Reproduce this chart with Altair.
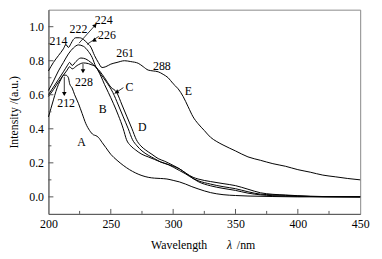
import altair as alt
import pandas as pd

# ---------------- data ----------------
E_wl = [200, 204, 208, 212, 214, 216, 218, 220, 222, 225, 228, 231, 234, 237, 240, 243, 246, 250, 255, 261,
        266, 272, 276, 280, 284, 288, 292, 296, 300, 304, 308, 312, 316, 320, 325, 330, 335, 340, 350, 360,
        370, 380, 390, 400, 410, 420, 430, 440, 450]
E_int = [0.74, 0.79, 0.83, 0.87, 0.895, 0.878, 0.90, 0.925, 0.935, 0.935, 0.925, 0.905, 0.88, 0.83, 0.79,
         0.76, 0.765, 0.78, 0.79, 0.80, 0.795, 0.785, 0.765, 0.745, 0.74, 0.735, 0.72, 0.70, 0.665, 0.635,
         0.59, 0.53, 0.47, 0.43, 0.39, 0.35, 0.325, 0.305, 0.27, 0.235, 0.215, 0.195, 0.18, 0.16, 0.145,
         0.128, 0.118, 0.108, 0.10]

A_wl = [200, 202, 204, 206, 208, 210, 212, 214, 216, 217, 219, 221, 224, 227, 230, 233, 236, 238, 240, 243,
        246, 250, 255, 260, 265, 270, 275, 280, 285, 290, 295, 300, 305, 310, 315, 320, 325, 330, 340, 350,
        360, 380, 400, 450]
A_int = [0.47, 0.52, 0.57, 0.62, 0.66, 0.69, 0.715, 0.715, 0.70, 0.665, 0.64, 0.60, 0.55, 0.49, 0.43, 0.39,
         0.365, 0.36, 0.35, 0.32, 0.29, 0.25, 0.215, 0.185, 0.16, 0.14, 0.125, 0.115, 0.11, 0.108, 0.105,
         0.097, 0.088, 0.075, 0.06, 0.047, 0.035, 0.025, 0.013, 0.008, 0.005, 0.002, 0.0, 0.0]

C_wl = [200, 204, 208, 212, 216, 220, 224, 228, 232, 235, 238, 241, 245, 250, 254.7, 259, 263, 267, 270.5,
        274, 278, 283, 288, 293, 300, 305, 310, 316, 320, 330, 340, 350, 360, 370, 380, 390, 400, 420, 450]
C_int = [0.625, 0.68, 0.74, 0.79, 0.84, 0.875, 0.893, 0.885, 0.855, 0.82, 0.765, 0.74, 0.70, 0.645, 0.614,
         0.54, 0.47, 0.40, 0.336, 0.30, 0.275, 0.25, 0.225, 0.21, 0.185, 0.165, 0.14, 0.115, 0.105, 0.09,
         0.078, 0.066, 0.045, 0.024, 0.015, 0.011, 0.007, 0.002, 0.0]

D_wl = [200, 204, 208, 212, 215, 217, 219, 222, 226, 230, 234, 238, 242, 246, 251.6, 256, 260, 264, 267.4,
        271, 275, 280, 285, 290, 296, 300, 305, 310, 316, 320, 330, 340, 350, 360, 370, 380, 390, 400, 420, 450]
D_int = [0.60, 0.645, 0.69, 0.735, 0.77, 0.79, 0.772, 0.795, 0.816, 0.81, 0.79, 0.763, 0.72, 0.68, 0.614,
         0.54, 0.47, 0.40, 0.336, 0.30, 0.27, 0.245, 0.225, 0.205, 0.19, 0.175, 0.155, 0.135, 0.108, 0.095,
         0.075, 0.06, 0.048, 0.03, 0.016, 0.012, 0.009, 0.005, 0.001, 0.0]

B_wl = [200, 204, 208, 212, 215, 217, 219, 223, 228, 232, 235, 238, 242, 245, 248, 252, 256, 260, 262.6, 266,
        270, 275, 280, 285, 290, 296, 300, 305, 310, 316, 320, 330, 340, 350, 360, 370, 380, 400, 450]
B_int = [0.59, 0.63, 0.675, 0.715, 0.745, 0.765, 0.752, 0.772, 0.787, 0.783, 0.775, 0.763, 0.71, 0.66, 0.614,
         0.55, 0.48, 0.40, 0.336, 0.30, 0.275, 0.25, 0.235, 0.22, 0.205, 0.19, 0.18, 0.165, 0.14, 0.108, 0.09,
         0.065, 0.05, 0.038, 0.022, 0.012, 0.007, 0.003, 0.0]

label_text = ["214", "222", "224", "226", "261", "288", "E", "C", "B", "D", "A", "228", "212"]
label_x = [208.0, 224.1, 244.3, 246.9, 261.5, 291.0, 312.3, 264.9, 243.5, 275.2, 226.5, 228.5, 214.2]
label_y = [0.915, 0.986, 1.040, 0.953, 0.847, 0.770, 0.619, 0.648, 0.514, 0.412, 0.325, 0.677, 0.549]

# arrows: (x1, y1) -> (x2, y2), head at (hx, hy) with angle
arrow_x1 = [224.5, 230.9, 227.7, 212.7, 260.1]
arrow_y1 = [0.903, 0.896, 0.781, 0.706, 0.642]
arrow_x2 = [238.0, 240.3, 227.7, 212.7, 253.0]
arrow_y2 = [1.013, 0.943, 0.735, 0.600, 0.607]
head_x = [237.5, 236.5, 227.7, 212.7, 254.6]
head_y = [1.008, 0.918, 0.738, 0.605, 0.615]
head_angle = [42, 236, 180, 180, 242]

x_values = [200, 250, 300, 350, 400, 450]
x_major = [250, 300, 350, 400]
x_minor = [225, 275, 325, 375, 425]
y_major = [0.0, 0.2, 0.4, 0.6, 0.8, 1.0]
y_minor = [0.1, 0.3, 0.5, 0.7, 0.9]

# ---------------- build ----------------
frames = []
for name, wl, it in [("E", E_wl, E_int), ("A", A_wl, A_int), ("C", C_wl, C_int),
                     ("D", D_wl, D_int), ("B", B_wl, B_int)]:
    frames.append(pd.DataFrame({"wl": wl, "I": it, "s": name}))
df = pd.concat(frames, ignore_index=True)

W, H = 316, 207
FONT = "Liberation Serif, Times New Roman, serif"
xs = alt.Scale(domain=[200, 450], nice=False, zero=False)
ys = alt.Scale(domain=[-0.1, 1.1], nice=False, zero=False)

lines = alt.Chart(df).mark_line(color="black", strokeWidth=1, interpolate="monotone").encode(
    x=alt.X("wl:Q", scale=xs,
            axis=alt.Axis(values=x_values, ticks=False, grid=False, labelFlush=False,
                          labelPadding=5, title=None, format="d")),
    y=alt.Y("I:Q", scale=ys,
            axis=alt.Axis(values=y_major, ticks=False, grid=False, format=".1f", labelFlush=False,
                          labelPadding=5, title="Intensity /(a.u.)", titlePadding=8,
                          titleFont=FONT, titleFontSize=12, titleFontWeight="normal")),
    detail="s:N",
)

lab_df = pd.DataFrame({"x": label_x, "y": label_y, "t": label_text})
labels = alt.Chart(lab_df).mark_text(font=FONT, fontSize=12, color="black").encode(
    x=alt.X("x:Q", scale=xs), y=alt.Y("y:Q", scale=ys), text="t:N")

arr_df = pd.DataFrame({"x1": arrow_x1, "y1": arrow_y1, "x2": arrow_x2, "y2": arrow_y2})
arrows = alt.Chart(arr_df).mark_rule(color="black", strokeWidth=0.8).encode(
    x=alt.X("x1:Q", scale=xs), y=alt.Y("y1:Q", scale=ys), x2="x2:Q", y2="y2:Q")

head_df = pd.DataFrame({"x": head_x, "y": head_y, "a": head_angle})
heads = alt.Chart(head_df).mark_point(shape="triangle-up", filled=True, color="black",
                                      size=22, opacity=1).encode(
    x=alt.X("x:Q", scale=xs), y=alt.Y("y:Q", scale=ys), angle=alt.Angle("a:Q", scale=None))

def xt(vals, length):
    return alt.Chart(pd.DataFrame({"v": vals})).mark_rule(color="#555", strokeWidth=1).encode(
        x=alt.X("v:Q", scale=xs), y=alt.value(H), y2=alt.value(H - length))

def yt(vals, length):
    return alt.Chart(pd.DataFrame({"v": vals})).mark_rule(color="#555", strokeWidth=1).encode(
        y=alt.Y("v:Q", scale=ys), x=alt.value(0), x2=alt.value(length))

xtitle1 = alt.Chart(pd.DataFrame({"t": ["Wavelength"]})).mark_text(
    font=FONT, fontSize=12, color="black", align="left", baseline="middle").encode(
    x=alt.value(104), y=alt.value(239), text="t:N")
xtitle2 = alt.Chart(pd.DataFrame({"t": ["λ"]})).mark_text(
    font=FONT, fontSize=12, fontStyle="italic", color="black", align="left", baseline="middle").encode(
    x=alt.value(181), y=alt.value(239), text="t:N")
xtitle3 = alt.Chart(pd.DataFrame({"t": ["/nm"]})).mark_text(
    font=FONT, fontSize=12, color="black", align="left", baseline="middle").encode(
    x=alt.value(191), y=alt.value(239), text="t:N")

chart = alt.layer(
    lines, labels, arrows, heads,
    xt(x_major, 5), xt(x_minor, 3), yt(y_major, 5), yt(y_minor, 3),
    xtitle1, xtitle2, xtitle3,
).properties(
    width=W, height=H,
    autosize=alt.AutoSizeParams(type="none"),
    padding={"left": 41, "top": 0, "right": 14, "bottom": 42},
).configure_view(
    stroke="#888", strokeWidth=1, clip=False
).configure_axis(
    labelFont=FONT, labelFontSize=12, labelColor="black",
    domainColor="#555", domainWidth=1,
)

chart.save("out.html", embed_options={"renderer": "svg", "actions": False})
